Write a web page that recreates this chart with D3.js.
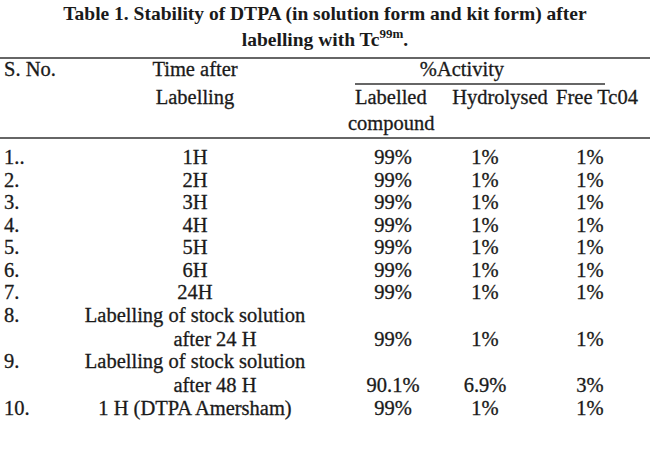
<!DOCTYPE html>
<html><head><meta charset="utf-8">
<script src="https://cdn.jsdelivr.net/npm/d3@7"></script>
<style>body{margin:0;background:#fff}</style>
</head><body>
<script>
var serials = ["1..","2.","3.","4.","5.","6.","7.","8.","9.","10."];
var times = [["1H"],["2H"],["3H"],["4H"],["5H"],["6H"],["24H"],
  ["Labelling of stock solution","after 24 H"],["Labelling of stock solution","after 48 H"],["1 H (DTPA Amersham)"]];
var labelled = ["99%","99%","99%","99%","99%","99%","99%","99%","90.1%","99%"];
var hydrolysed = ["1%","1%","1%","1%","1%","1%","1%","1%","6.9%","1%"];
var free = ["1%","1%","1%","1%","1%","1%","1%","1%","3%","1%"];

var svg = d3.select("body").append("svg").attr("width",650).attr("height",470)
  .style("font-family","Liberation Serif, serif").style("fill","#1a1a1a");

svg.append("text").attr("x",325).attr("y",20).attr("text-anchor","middle")
  .attr("font-weight","bold").attr("font-size",19.5)
  .text("Table 1. Stability of DTPA (in solution form and kit form) after");
var t2 = svg.append("text").attr("x",325).attr("y",46).attr("text-anchor","middle")
  .attr("font-weight","bold").attr("font-size",19.5);
t2.append("tspan").text("labelling with Tc");
t2.append("tspan").attr("dy",-8).attr("font-size",13).text("99m");
t2.append("tspan").attr("dy",8).text(".");

function rule(x1,x2,y){svg.append("line").attr("x1",x1).attr("x2",x2).attr("y1",y).attr("y2",y)
  .attr("stroke","#333").attr("stroke-width",1.4);}
rule(0,650,58); rule(355,605,84); rule(0,650,138);

function txt(x,y,s,a){svg.append("text").attr("x",x).attr("y",y).attr("font-size",20.5)
  .attr("text-anchor",a||"middle").attr("stroke","#1a1a1a").attr("stroke-width",0.3).text(s);}
txt(4,76,"S. No.","start");
txt(195,76,"Time after"); txt(195,104,"Labelling");
txt(462,76,"%Activity");
txt(355,104,"Labelled","start"); txt(500,104,"Hydrolysed");
txt(597,104,"Free Tc04");
txt(348,130,"compound","start");

var y = 164, line = 22.5;
serials.forEach(function(s,i){
  var lines = times[i];
  var last = y + (lines.length-1)*line + (lines.length>1?1.5:0);
  txt(4,y,s,"start");
  lines.forEach(function(l,j){ txt(lines.length>1&&j>0?215:195, y + j*(line+1.5), l); });
  txt(393,last,labelled[i]); txt(485,last,hydrolysed[i]); txt(590,last,free[i]);
  y = last + line;
});
</script>
</body></html>
